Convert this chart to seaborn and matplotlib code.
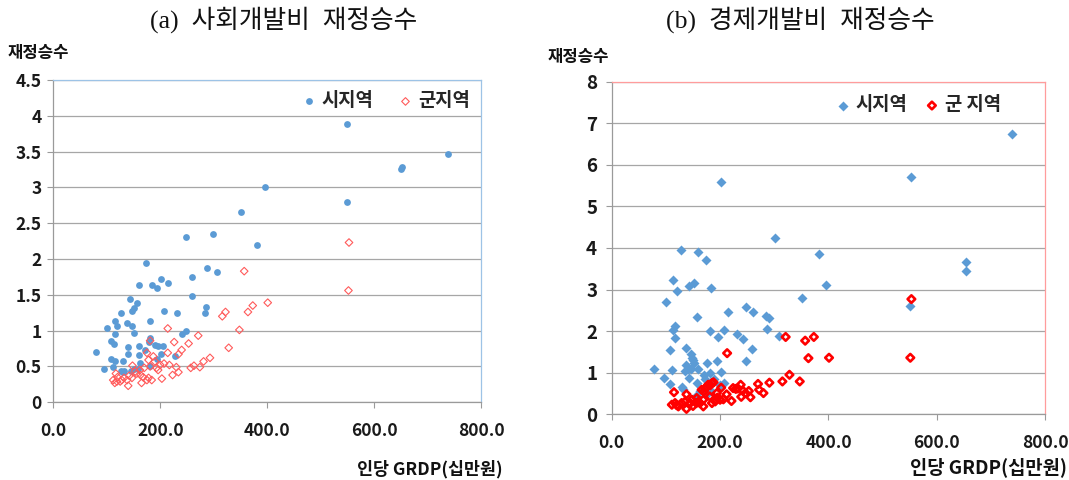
import matplotlib
matplotlib.use("Agg")
import matplotlib.pyplot as plt
from matplotlib.ticker import FuncFormatter, MultipleLocator
import pandas as pd
import seaborn as sns

sns.set_theme(style="white")
plt.rcParams['font.family'] = ['Noto Sans CJK KR', 'DejaVu Sans']

# (a) social development spending: per-capita GRDP (100k KRW) vs fiscal multiplier
social_si_x = [550, 738, 652, 651, 395, 549, 351, 249, 299, 380,
               173, 287, 307, 260, 202, 160, 184, 194, 215, 259,
               143, 156, 151, 148, 285, 284, 207, 231, 126, 116,
               181, 137, 148, 101, 120, 115, 151, 248, 241, 108,
               113, 181, 178, 190, 205, 195, 161, 139, 79, 172,
               139, 160, 201, 228, 108, 130, 116, 163, 193, 111,
               180, 95, 127, 131, 150, 159, 146, 133]
social_si_y = [3.88, 3.47, 3.29, 3.26, 3.00, 2.79, 2.65, 2.31, 2.35, 2.20,
               1.95, 1.88, 1.82, 1.75, 1.72, 1.64, 1.63, 1.59, 1.66, 1.49,
               1.44, 1.39, 1.31, 1.28, 1.33, 1.24, 1.27, 1.24, 1.24, 1.13,
               1.13, 1.10, 1.07, 1.04, 1.06, 0.95, 0.96, 0.99, 0.95, 0.86,
               0.82, 0.90, 0.84, 0.80, 0.78, 0.78, 0.78, 0.77, 0.70, 0.73,
               0.68, 0.66, 0.67, 0.65, 0.61, 0.58, 0.57, 0.55, 0.61, 0.49,
               0.51, 0.46, 0.43, 0.42, 0.47, 0.46, 0.44, 0.44]

social_gun_x = [553, 552, 357, 401, 373, 364, 322, 316, 348, 328,
                214, 271, 253, 226, 181, 240, 234, 214, 293, 281,
                274, 263, 257, 230, 234, 223, 217, 207, 200, 203,
                184, 178, 165, 140, 115, 119, 128, 142, 148, 156,
                170, 178, 187, 175, 117, 193, 163, 132, 147, 153,
                168, 175, 196, 112, 125, 138, 162, 181, 190, 120]
social_gun_y = [2.23, 1.56, 1.83, 1.39, 1.35, 1.26, 1.26, 1.20, 1.01, 0.76,
                1.03, 0.93, 0.82, 0.84, 0.86, 0.73, 0.67, 0.69, 0.62, 0.57,
                0.49, 0.51, 0.48, 0.49, 0.42, 0.38, 0.52, 0.54, 0.52, 0.33,
                0.31, 0.34, 0.27, 0.23, 0.27, 0.29, 0.31, 0.37, 0.51, 0.40,
                0.48, 0.59, 0.64, 0.69, 0.40, 0.48, 0.38, 0.34, 0.34, 0.43,
                0.35, 0.31, 0.45, 0.31, 0.29, 0.31, 0.45, 0.50, 0.57, 0.35]

# (b) economic development spending
econ_si_x = [739, 552, 202, 301, 382, 653, 653, 127, 160, 174,
             114, 120, 143, 152, 184, 395, 351, 101, 550, 248,
             260, 215, 284, 290, 157, 116, 114, 116, 181, 207,
             286, 231, 242, 196, 308, 138, 108, 259, 146, 148,
             176, 194, 248, 79, 112, 138, 152, 146, 136, 160,
             201, 181, 96, 143, 157, 108, 172, 189, 207, 130,
             132, 163, 181, 150, 140, 170, 200, 155, 178]
econ_si_y = [6.74, 5.70, 5.58, 4.25, 3.85, 3.66, 3.45, 3.96, 3.91, 3.70,
             3.24, 2.97, 3.09, 3.15, 3.03, 3.10, 2.79, 2.69, 2.60, 2.57,
             2.47, 2.46, 2.36, 2.32, 2.33, 2.12, 2.03, 1.84, 2.00, 2.03,
             2.04, 1.92, 1.80, 1.87, 1.89, 1.60, 1.55, 1.58, 1.44, 1.35,
             1.24, 1.29, 1.29, 1.10, 1.07, 1.19, 1.23, 1.09, 1.04, 1.09,
             1.02, 0.99, 0.88, 0.87, 0.76, 0.73, 0.84, 0.84, 0.75, 0.66,
             0.62, 0.55, 0.58, 1.30, 1.10, 0.95, 0.70, 0.45, 0.50]

econ_gun_x = [553, 551, 321, 357, 373, 363, 401, 213, 328, 315,
              347, 291, 270, 238, 224, 202, 115, 280, 272, 253,
              256, 239, 221, 247, 229, 242, 212, 206, 194, 185,
              178, 173, 166, 181, 169, 156, 138, 111, 117, 123,
              129, 138, 148, 157, 163, 191, 200, 169, 185, 145,
              182, 176, 188, 170, 150, 135, 160, 195, 120, 233]
econ_gun_y = [2.77, 1.36, 1.86, 1.77, 1.86, 1.35, 1.36, 1.47, 0.95, 0.79,
              0.79, 0.76, 0.73, 0.71, 0.63, 0.64, 0.53, 0.51, 0.59, 0.56,
              0.41, 0.42, 0.32, 0.51, 0.61, 0.57, 0.48, 0.36, 0.51, 0.75,
              0.71, 0.63, 0.59, 0.43, 0.35, 0.27, 0.13, 0.23, 0.27, 0.19,
              0.27, 0.48, 0.35, 0.39, 0.27, 0.31, 0.35, 0.19, 0.27, 0.27,
              0.70, 0.66, 0.77, 0.55, 0.20, 0.30, 0.30, 0.40, 0.22, 0.62]

x_ticks = [0, 200, 400, 600, 800]

BLUE = '#5B9BD5'
GRID = '#A6A6A6'
AXIS = '#9A9A9A'
KFONT = ['Noto Sans CJK KR', 'DejaVu Sans']

fig = plt.figure(figsize=(10.69, 4.8), dpi=100)
ax1 = fig.add_axes([0.0499, 0.162, 0.4001, 0.6715])
ax2 = fig.add_axes([0.5722, 0.1369, 0.4056, 0.6930])

df_s1 = pd.DataFrame({'grdp': social_si_x, 'mult': social_si_y})
df_g1 = pd.DataFrame({'grdp': social_gun_x, 'mult': social_gun_y})
df_s2 = pd.DataFrame({'grdp': econ_si_x, 'mult': econ_si_y})
df_g2 = pd.DataFrame({'grdp': econ_gun_x, 'mult': econ_gun_y})

sns.scatterplot(data=df_s1, x='grdp', y='mult', ax=ax1, color=BLUE, marker='o',
                s=24, linewidth=0, label='시지역', zorder=3)
sns.scatterplot(data=df_g1, x='grdp', y='mult', ax=ax1, color='#FF5A5A', marker='D',
                s=15, facecolors='none', edgecolor='#FF5A5A', linewidth=0.8,
                label='군지역', zorder=4)

sns.scatterplot(data=df_s2, x='grdp', y='mult', ax=ax2, color=BLUE, marker='D',
                s=26, linewidth=0, label='시지역', zorder=3)
sns.scatterplot(data=df_g2, x='grdp', y='mult', ax=ax2, color='#FF0000', marker='D',
                s=15, facecolors='none', edgecolor='#FF0000', linewidth=1.9,
                label='군 지역', zorder=4)

def style_axis(ax, ymax, ystep, yfmt, edge_color, ysize, xsize, ypad):
    ax.set_xlim(0, 800)
    ax.set_ylim(0, ymax)
    ax.set_xticks(x_ticks)
    ax.yaxis.set_major_locator(MultipleLocator(ystep))
    ax.xaxis.set_major_formatter(FuncFormatter(lambda v, p: f'{v:.1f}'))
    ax.yaxis.set_major_formatter(FuncFormatter(yfmt))
    ax.set_xlabel('')
    ax.set_ylabel('')
    ax.grid(axis='y', color=GRID, linewidth=0.9)
    ax.grid(axis='x', visible=False)
    ax.set_axisbelow(True)
    for side in ('left', 'bottom'):
        ax.spines[side].set_color(AXIS)
        ax.spines[side].set_linewidth(0.9)
    for side in ('top', 'right'):
        ax.spines[side].set_color(edge_color)
        ax.spines[side].set_linewidth(0.9)
    ax.tick_params(axis='both', which='major', direction='out', length=4.5,
                   width=0.8, color=AXIS, left=True, bottom=True)
    ax.tick_params(axis='x', pad=10, labelsize=xsize)
    ax.tick_params(axis='y', pad=ypad, labelsize=ysize)
    for lab in ax.get_xticklabels() + ax.get_yticklabels():
        lab.set_fontweight('bold')
        lab.set_color('#1A1A1A')

style_axis(ax1, 4.5, 0.5, lambda v, p: f'{v:g}', '#9DC3E6', 12.5, 12.5, 4)
style_axis(ax2, 8, 1, lambda v, p: f'{v:g}', '#FF9C9C', 13.5, 12.5, 6)

leg_font = {'family': KFONT, 'weight': 'bold', 'size': 13.5}
ax1.legend(loc='center right', bbox_to_anchor=(0.975, 0.935), ncol=2, frameon=False,
           prop=leg_font, handlelength=0.6, handletextpad=0.4, columnspacing=1.4,
           borderpad=0, borderaxespad=0, markerscale=1.0)
ax2.legend(loc='center right', bbox_to_anchor=(0.898, 0.930), ncol=2, frameon=False,
           prop=leg_font, handlelength=0.6, handletextpad=0.4, columnspacing=1.0,
           borderpad=0, borderaxespad=0, markerscale=1.0)

title_font = ['Liberation Serif', 'Noto Sans CJK KR']
fig.text(284 / 1069, 1 - 20 / 480, '(a)  사회개발비  재정승수', ha='center', va='center',
         fontsize=18.5, family=title_font, color='#111111')
fig.text(800 / 1069, 1 - 20 / 480, '(b)  경제개발비  재정승수', ha='center', va='center',
         fontsize=18.5, family=title_font, color='#111111')

fig.text(8 / 1069, 1 - 53 / 480, '재정승수', ha='left', va='center', fontsize=12,
         fontweight='bold', family=KFONT, color='#111111')
fig.text(548 / 1069, 1 - 57 / 480, '재정승수', ha='left', va='center', fontsize=12,
         fontweight='bold', family=KFONT, color='#111111')

fig.text(503 / 1069, 1 - 469 / 480, '인당 GRDP(십만원)', ha='right', va='center',
         fontsize=12.5, fontweight='bold', family=KFONT, color='#111111')
fig.text(1067 / 1069, 1 - 467 / 480, '인당 GRDP(십만원)', ha='right', va='center',
         fontsize=13.5, fontweight='bold', family=KFONT, color='#111111')

fig.savefig('out.png', dpi=100, facecolor='white')
